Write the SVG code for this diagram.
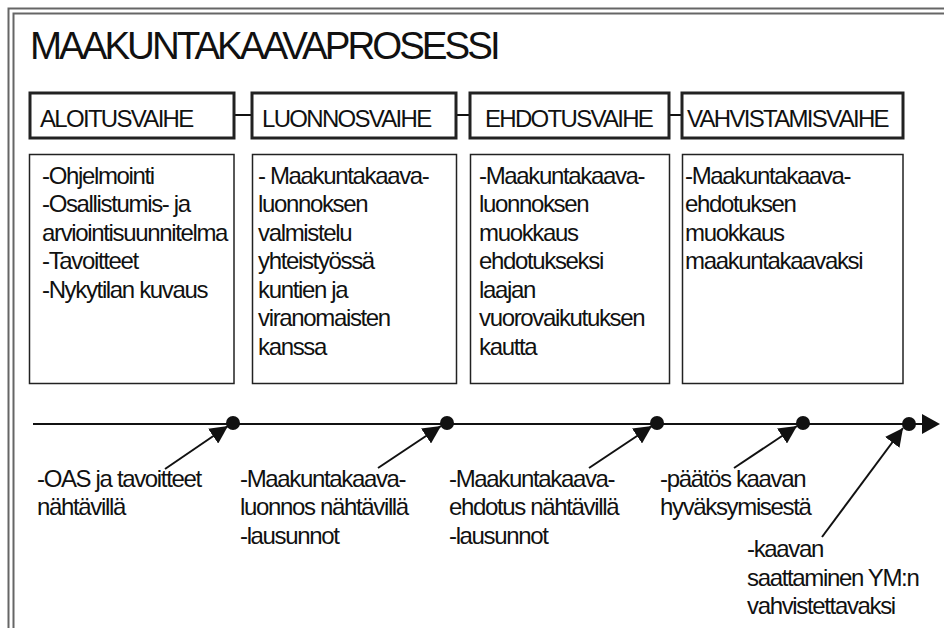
<svg xmlns="http://www.w3.org/2000/svg" width="944" height="628" viewBox="0 0 944 628">
<style>
text{font-family:"Liberation Sans",Arial,sans-serif;fill:#111;}
.t{font-size:24px;letter-spacing:-1.35px;}
.h{font-size:24px;letter-spacing:-1.7px;}
.title{font-size:38.5px;letter-spacing:-3.0px;}
.frame{fill:none;stroke:#666;stroke-width:2;}
.hb{fill:#fff;stroke:#222;stroke-width:3;}
.cb{fill:#fff;stroke:#222;stroke-width:1.5;}
.ln{stroke:#111;stroke-width:2;fill:none;}
</style>
<defs>
<marker id="ah2" viewBox="0 0 10 10" refX="10" refY="5" markerWidth="18" markerHeight="18" markerUnits="userSpaceOnUse" orient="auto">
<path d="M0,0 L10,5 L0,10 Z" fill="#111"/>
</marker>
</defs>
<rect width="944" height="628" fill="#fff"/>
<g id="frame">
<rect class="frame" x="8.5" y="8.5" width="950" height="640"/>
<rect class="frame" x="13.5" y="13.5" width="940" height="630"/>
</g>
<text class="title" x="30" y="59">MAAKUNTAKAAVAPROSESSI</text>
<g id="connectors">
<line class="ln" x1="234" y1="115" x2="252" y2="115"/>
<line class="ln" x1="456" y1="115" x2="470" y2="115"/>
<line class="ln" x1="669" y1="115" x2="682" y2="115"/>
<line class="ln" x1="33" y1="424" x2="922" y2="424"/>
<path d="M922,414 L940,424 L922,434 Z" fill="#111"/>
<line class="ln" x1="165" y1="469" x2="228" y2="426" marker-end="url(#ah2)"/>
<line class="ln" x1="378" y1="468" x2="441" y2="426" marker-end="url(#ah2)"/>
<line class="ln" x1="589" y1="468" x2="652" y2="426" marker-end="url(#ah2)"/>
<line class="ln" x1="734" y1="468" x2="797" y2="426" marker-end="url(#ah2)"/>
<line class="ln" x1="822" y1="537" x2="903" y2="428" marker-end="url(#ah2)"/>
</g>
<g id="h1"><rect class="hb" x="30" y="93" width="204" height="45"/><text class="h" x="40" y="127">ALOITUSVAIHE</text></g>
<g id="h2"><rect class="hb" x="252" y="93" width="204" height="45"/><text class="h" x="262" y="127">LUONNOSVAIHE</text></g>
<g id="h3"><rect class="hb" x="470" y="93" width="199" height="45"/><text class="h" x="485" y="127">EHDOTUSVAIHE</text></g>
<g id="h4"><rect class="hb" x="682" y="93" width="221" height="45"/><text class="h" x="687" y="127">VAHVISTAMISVAIHE</text></g>
<g id="c1"><rect class="cb" x="29.5" y="154.5" width="204.5" height="229"/>
<text class="t" x="42"><tspan x="42" y="184">-Ohjelmointi</tspan><tspan x="42" y="212">-Osallistumis- ja</tspan><tspan x="42" y="241">arviointisuunnitelma</tspan><tspan x="42" y="269">-Tavoitteet</tspan><tspan x="42" y="298">-Nykytilan kuvaus</tspan></text></g>
<g id="c2"><rect class="cb" x="252.5" y="154.5" width="204" height="229"/>
<text class="t"><tspan x="258" y="184">- Maakuntakaava-</tspan><tspan x="258" y="212">luonnoksen</tspan><tspan x="258" y="241">valmistelu</tspan><tspan x="258" y="269">yhteistyössä</tspan><tspan x="258" y="298">kuntien ja</tspan><tspan x="258" y="326">viranomaisten</tspan><tspan x="258" y="355">kanssa</tspan></text></g>
<g id="c3"><rect class="cb" x="470.5" y="154.5" width="199" height="229"/>
<text class="t"><tspan x="479" y="184">-Maakuntakaava-</tspan><tspan x="479" y="212">luonnoksen</tspan><tspan x="479" y="241">muokkaus</tspan><tspan x="479" y="269">ehdotukseksi</tspan><tspan x="479" y="298">laajan</tspan><tspan x="479" y="326">vuorovaikutuksen</tspan><tspan x="479" y="355">kautta</tspan></text></g>
<g id="c4"><rect class="cb" x="682.5" y="154.5" width="220.5" height="229"/>
<text class="t"><tspan x="685" y="184">-Maakuntakaava-</tspan><tspan x="685" y="212">ehdotuksen</tspan><tspan x="685" y="241">muokkaus</tspan><tspan x="685" y="269">maakuntakaavaksi</tspan></text></g>
<g id="dots" fill="#111">
<circle cx="233" cy="423" r="7"/>
<circle cx="447" cy="423" r="7"/>
<circle cx="657" cy="423" r="7"/>
<circle cx="803" cy="423" r="7"/>
<circle cx="909" cy="424" r="7"/>
</g>
<g id="m1"><text class="t"><tspan x="37" y="487">-OAS ja tavoitteet</tspan><tspan x="37" y="515">nähtävillä</tspan></text></g>
<g id="m2"><text class="t"><tspan x="240" y="487">-Maakuntakaava-</tspan><tspan x="240" y="515">luonnos nähtävillä</tspan><tspan x="240" y="544">-lausunnot</tspan></text></g>
<g id="m3"><text class="t"><tspan x="449" y="487">-Maakuntakaava-</tspan><tspan x="449" y="515">ehdotus nähtävillä</tspan><tspan x="449" y="544">-lausunnot</tspan></text></g>
<g id="m4"><text class="t"><tspan x="660" y="487">-päätös kaavan</tspan><tspan x="660" y="515">hyväksymisestä</tspan></text></g>
<g id="m5"><text class="t"><tspan x="747" y="557">-kaavan</tspan><tspan x="747" y="586">saattaminen YM:n</tspan><tspan x="747" y="614">vahvistettavaksi</tspan></text></g>
</svg>
